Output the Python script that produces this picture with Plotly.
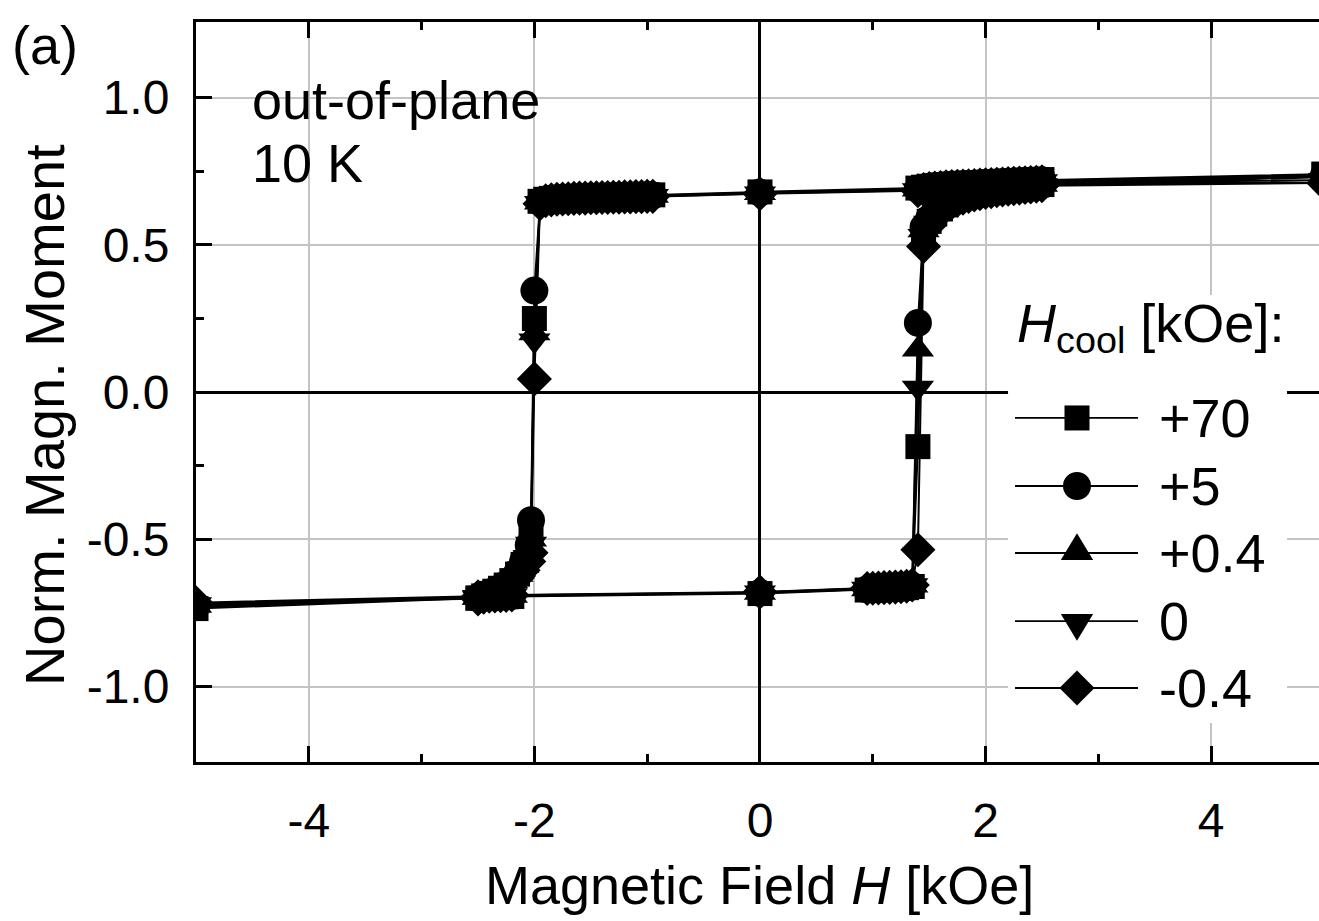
import plotly.graph_objects as go

FONT = "Liberation Sans, Arial, sans-serif"

# Field sweep (kOe): descending branch from +5 to -5, then ascending back to +5
H_down = [5.0,
          2.5, 2.45, 2.4, 2.35, 2.3, 2.25, 2.2, 2.15, 2.1, 2.05, 2.0, 1.95,
          1.9, 1.85, 1.8, 1.75, 1.7, 1.65, 1.6, 1.55, 1.5, 1.45, 1.4,
          0.0,
          -0.95, -1.0, -1.05, -1.1, -1.15, -1.2, -1.25, -1.3, -1.35, -1.4, -1.45,
          -1.5, -1.55, -1.6, -1.65, -1.7, -1.75, -1.8, -1.85, -1.9, -1.95,
          -2.0, -2.03,
          -2.05, -2.1, -2.15, -2.2, -2.25, -2.3, -2.35, -2.4, -2.45, -2.5,
          -5.0]
H_up = [-2.5, -2.45, -2.4, -2.35, -2.3, -2.25, -2.2,
        0.0,
        0.95, 1.0, 1.05, 1.1, 1.15, 1.2, 1.25, 1.3, 1.35,
        1.4,
        1.45, 1.5, 1.55, 1.6, 1.65, 1.7, 1.75, 1.8, 1.85, 1.9, 1.95,
        2.0, 2.05, 2.1, 2.15, 2.2, 2.25, 2.3, 2.35, 2.4, 2.45, 2.5,
        5.0]

# Normalised moment, H_cool = +70 kOe
M_down_p70 = [0.740,
              0.722, 0.721, 0.720, 0.719, 0.718, 0.717, 0.716, 0.715, 0.714, 0.713, 0.712, 0.711,
              0.710, 0.709, 0.708, 0.707, 0.706, 0.705, 0.703, 0.701, 0.699, 0.696, 0.693,
              0.680,
              0.670, 0.670, 0.669, 0.669, 0.668, 0.668, 0.667, 0.667, 0.666, 0.666, 0.665,
              0.665, 0.664, 0.664, 0.663, 0.662, 0.661, 0.660, 0.658, 0.655, 0.648,
              0.250, -0.480,
              -0.540, -0.585, -0.618, -0.640, -0.655, -0.666, -0.676, -0.684, -0.692, -0.699,
              -0.735]
M_up_p70 = [-0.700, -0.699, -0.698, -0.697, -0.696, -0.695, -0.694,
            -0.684,
            -0.672, -0.671, -0.670, -0.669, -0.668, -0.667, -0.666, -0.664, -0.660,
            -0.185,
            0.540, 0.580, 0.605, 0.622, 0.636, 0.647, 0.656, 0.663, 0.669, 0.674, 0.678,
            0.682, 0.685, 0.688, 0.691, 0.693, 0.695, 0.697, 0.699, 0.701, 0.703, 0.705,
            0.740]

# H_cool = +5 kOe
M_down_p5 = [0.735,
             0.720, 0.719, 0.718, 0.717, 0.716, 0.715, 0.714, 0.713, 0.712, 0.711, 0.710, 0.709,
             0.708, 0.707, 0.706, 0.705, 0.704, 0.703, 0.701, 0.699, 0.697, 0.694, 0.690,
             0.678,
             0.668, 0.668, 0.667, 0.667, 0.666, 0.666, 0.665, 0.665, 0.664, 0.664, 0.663,
             0.663, 0.662, 0.662, 0.661, 0.660, 0.659, 0.658, 0.656, 0.653, 0.645,
             0.345, -0.435,
             -0.520, -0.575, -0.612, -0.636, -0.652, -0.664, -0.674, -0.682, -0.690, -0.697,
             -0.730]
M_up_p5 = [-0.698, -0.697, -0.696, -0.695, -0.694, -0.693, -0.692,
           -0.682,
           -0.670, -0.669, -0.668, -0.667, -0.666, -0.665, -0.664, -0.662, -0.658,
           0.235,
           0.560, 0.590, 0.612, 0.628, 0.640, 0.650, 0.658, 0.665, 0.670, 0.675, 0.679,
           0.683, 0.686, 0.689, 0.692, 0.694, 0.696, 0.698, 0.700, 0.702, 0.704, 0.706,
           0.735]

# H_cool = +0.4 kOe
M_down_p04 = [0.730,
              0.718, 0.717, 0.716, 0.715, 0.714, 0.713, 0.712, 0.711, 0.710, 0.709, 0.708, 0.707,
              0.706, 0.705, 0.704, 0.703, 0.702, 0.701, 0.699, 0.697, 0.695, 0.692, 0.688,
              0.676,
              0.667, 0.667, 0.666, 0.666, 0.665, 0.665, 0.664, 0.664, 0.663, 0.663, 0.662,
              0.662, 0.661, 0.661, 0.660, 0.659, 0.658, 0.657, 0.655, 0.652, 0.644,
              0.200, -0.500,
              -0.550, -0.590, -0.620, -0.641, -0.656, -0.667, -0.677, -0.685, -0.692, -0.698,
              -0.725]
M_up_p04 = [-0.697, -0.696, -0.695, -0.694, -0.693, -0.692, -0.691,
            -0.681,
            -0.669, -0.668, -0.667, -0.666, -0.665, -0.664, -0.663, -0.661, -0.657,
            0.145,
            0.550, 0.585, 0.608, 0.625, 0.638, 0.648, 0.657, 0.664, 0.669, 0.674, 0.678,
            0.682, 0.685, 0.688, 0.690, 0.692, 0.694, 0.696, 0.698, 0.700, 0.702, 0.704,
            0.730]

# H_cool = 0
M_down_0 = [0.720,
            0.716, 0.715, 0.714, 0.713, 0.712, 0.711, 0.710, 0.709, 0.708, 0.707, 0.706, 0.705,
            0.704, 0.703, 0.702, 0.701, 0.700, 0.699, 0.697, 0.695, 0.693, 0.690, 0.686,
            0.675,
            0.666, 0.666, 0.665, 0.665, 0.664, 0.664, 0.663, 0.663, 0.662, 0.662, 0.661,
            0.661, 0.660, 0.660, 0.659, 0.658, 0.657, 0.656, 0.654, 0.651, 0.642,
            0.175, -0.515,
            -0.560, -0.598, -0.625, -0.645, -0.659, -0.670, -0.679, -0.687, -0.694, -0.700,
            -0.720]
M_up_0 = [-0.696, -0.695, -0.694, -0.693, -0.692, -0.691, -0.690,
          -0.680,
          -0.668, -0.667, -0.666, -0.665, -0.664, -0.663, -0.662, -0.660, -0.656,
          0.015,
          0.530, 0.575, 0.602, 0.620, 0.634, 0.645, 0.654, 0.661, 0.667, 0.672, 0.676,
          0.680, 0.683, 0.686, 0.689, 0.691, 0.693, 0.695, 0.697, 0.699, 0.701, 0.703,
          0.720]

# H_cool = -0.4 kOe
M_down_m04 = [0.710,
              0.714, 0.713, 0.712, 0.711, 0.710, 0.709, 0.708, 0.707, 0.706, 0.705, 0.704, 0.703,
              0.702, 0.701, 0.700, 0.699, 0.698, 0.697, 0.695, 0.693, 0.691, 0.688, 0.684,
              0.674,
              0.665, 0.665, 0.664, 0.664, 0.663, 0.663, 0.662, 0.662, 0.661, 0.661, 0.660,
              0.660, 0.659, 0.659, 0.658, 0.657, 0.656, 0.655, 0.653, 0.650, 0.640,
              0.045, -0.545,
              -0.575, -0.605, -0.630, -0.648, -0.662, -0.672, -0.681, -0.689, -0.696, -0.702,
              -0.715]
M_up_m04 = [-0.695, -0.694, -0.693, -0.692, -0.691, -0.690, -0.689,
            -0.679,
            -0.667, -0.666, -0.665, -0.664, -0.663, -0.662, -0.661, -0.659, -0.655,
            -0.535,
            0.495, 0.565, 0.598, 0.617, 0.632, 0.643, 0.652, 0.659, 0.665, 0.670, 0.674,
            0.678, 0.681, 0.684, 0.687, 0.689, 0.691, 0.693, 0.695, 0.697, 0.699, 0.701,
            0.710]

series_labels = ["+70", "+5", "+0.4", "0", "-0.4"]
series_down = [M_down_p70, M_down_p5, M_down_p04, M_down_0, M_down_m04]
series_up = [M_up_p70, M_up_p5, M_up_p04, M_up_0, M_up_m04]
series_symbols = ["square", "circle", "triangle-up", "triangle-down", "diamond"]
series_sizes = [25, 28, 28, 28, 27]

x_tickvals = [-4, -2, 0, 2, 4]
x_ticktext = ["-4", "-2", "0", "2", "4"]
x_minorvals = [-5, -3, -1, 1, 3, 5]
y_tickvals = [-1.0, -0.5, 0.0, 0.5, 1.0]
y_ticktext = ["-1.0", "-0.5", "0.0", "0.5", "1.0"]
y_minorvals = [-0.75, -0.25, 0.25, 0.75]

X_RANGE = [-5.0, 4.956]
Y_RANGE = [-1.256, 1.257]

# legend key layout (paper fractions of the plot area)
LEG_BOX = (0.7231, 0.9715, 0.0527, 0.6311)
LEG_ROWS = [0.4649, 0.3730, 0.2824, 0.1905, 0.1000]
LEG_LINE_X = (0.7293, 0.8388)
LEG_MARK_X = 0.7845
LEG_TEXT_X = 0.8557


def key_symbol(symbol, size, xa, ya):
    """Legend key glyph as a pixel-sized shape anchored at (xa, ya) in paper units."""
    r = size / 2.0
    base = dict(xref="paper", yref="paper", xsizemode="pixel", ysizemode="pixel",
                xanchor=xa, yanchor=ya, fillcolor="black",
                line=dict(width=0), layer="above")
    if symbol == "circle":
        return dict(type="circle", x0=-r, x1=r, y0=-r, y1=r, **base)
    if symbol == "square":
        p = f"M{-r},{-r} L{r},{-r} L{r},{r} L{-r},{r} Z"
    elif symbol == "triangle-up":
        rt, r2, rs = r * 2 / 3 ** 0.5, r / 2, r * 2 ** 0.5
        p = f"M{-rt},{-r2} L{rt},{-r2} L0,{rs} Z"
    elif symbol == "triangle-down":
        rt, r2, rs = r * 2 / 3 ** 0.5, r / 2, r * 2 ** 0.5
        p = f"M{-rt},{r2} L{rt},{r2} L0,{-rs} Z"
    else:  # diamond
        rd = r * 1.3
        p = f"M{rd},0 L0,{rd} L{-rd},0 L0,{-rd} Z"
    return dict(type="path", path=p, **base)


fig = go.Figure()

for lab, md, mu, sym, sz in zip(series_labels, series_down, series_up,
                                series_symbols, series_sizes):
    fig.add_trace(go.Scatter(
        x=H_down + H_up, y=md + mu, mode="lines+markers", name=lab,
        line=dict(color="black", width=2),
        marker=dict(symbol=sym, size=sz, color="black", line=dict(width=0)),
        showlegend=False))

tick_font = dict(family=FONT, size=48, color="black")

shapes = [dict(type="rect", xref="paper", yref="paper",
               x0=LEG_BOX[0], x1=LEG_BOX[1], y0=LEG_BOX[2], y1=LEG_BOX[3],
               fillcolor="white", line=dict(width=0), layer="above")]
for row, sym, sz in zip(LEG_ROWS, series_symbols, series_sizes):
    shapes.append(dict(type="line", xref="paper", yref="paper",
                       x0=LEG_LINE_X[0], x1=LEG_LINE_X[1], y0=row, y1=row,
                       line=dict(color="black", width=1.8), layer="above"))
    shapes.append(key_symbol(sym, sz, LEG_MARK_X, row))

fig.update_layout(
    width=1319, height=921,
    margin=dict(l=196, r=0, t=22, b=159, pad=0),
    paper_bgcolor="white", plot_bgcolor="white",
    font=dict(family=FONT, color="black"),
    showlegend=False,
    xaxis=dict(
        range=X_RANGE, tickmode="array", tickvals=x_tickvals, ticktext=x_ticktext,
        ticks="inside", ticklen=16, tickwidth=3, tickcolor="black",
        showline=True, linecolor="black", linewidth=3, mirror="ticks",
        showgrid=True, gridcolor="#c4c4c4", gridwidth=2,
        zeroline=True, zerolinecolor="black", zerolinewidth=3,
        tickfont=tick_font, ticklabelstandoff=14,
        minor=dict(tickvals=x_minorvals, ticks="inside", ticklen=8, tickwidth=3,
                   tickcolor="black", showgrid=False),
    ),
    yaxis=dict(
        range=Y_RANGE, tickmode="array", tickvals=y_tickvals, ticktext=y_ticktext,
        ticks="inside", ticklen=16, tickwidth=3, tickcolor="black",
        showline=True, linecolor="black", linewidth=3, mirror=False,
        showgrid=True, gridcolor="#c4c4c4", gridwidth=2,
        zeroline=True, zerolinecolor="black", zerolinewidth=3,
        tickfont=tick_font, ticklabelstandoff=14,
        minor=dict(tickvals=y_minorvals, ticks="inside", ticklen=8, tickwidth=3,
                   tickcolor="black", showgrid=False),
    ),
    yaxis2=dict(
        range=Y_RANGE, overlaying="y", side="right", anchor="x",
        tickmode="array", tickvals=y_tickvals, showticklabels=False,
        ticks="inside", ticklen=11, tickwidth=3, tickcolor="black",
        showline=False, showgrid=False, zeroline=False,
        minor=dict(tickvals=y_minorvals, ticks="inside", ticklen=4, tickwidth=3,
                   tickcolor="black", showgrid=False),
    ),
    shapes=shapes,
)

ann_font = dict(family=FONT, size=54, color="black")
annotations = [
    dict(text="(a)", x=-0.1656, y=0.969, xanchor="left", yanchor="middle"),
    dict(text="out-of-plane", x=0.048, y=0.8946, xanchor="left", yanchor="middle"),
    dict(text="10 K", x=0.048, y=0.8095, xanchor="left", yanchor="middle"),
    dict(text="Norm. Magn. Moment", x=-0.1345, y=0.469, xanchor="center",
         yanchor="middle", textangle=-90, font=dict(family=FONT, size=56, color="black")),
    dict(text="Magnetic Field <i>H</i> [kOe]", x=0.502, y=-0.1662,
         xanchor="center", yanchor="middle"),
    dict(text="<i>H</i><sub>cool</sub> [kOe]:", x=LEG_LINE_X[0], y=0.588,
         xanchor="left", yanchor="middle"),
]
for row, lab in zip(LEG_ROWS, series_labels):
    annotations.append(dict(text=lab, x=LEG_TEXT_X, y=row, xanchor="left",
                            yanchor="middle"))
for a in annotations:
    a.setdefault("font", ann_font)
    a.update(xref="paper", yref="paper", showarrow=False)
fig.update_layout(annotations=annotations)

fig.write_html("out.html", config={"displayModeBar": False})
